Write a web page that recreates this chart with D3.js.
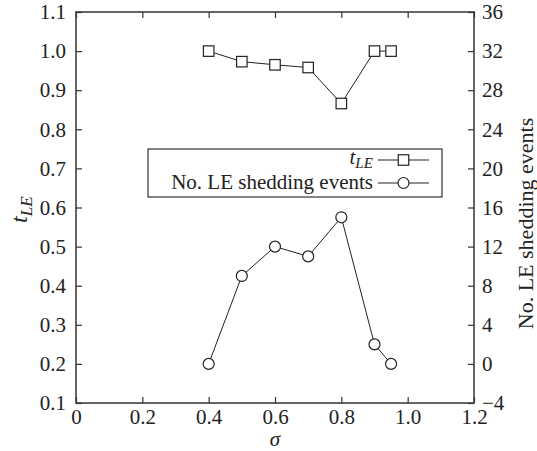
<!DOCTYPE html>
<html>
<head>
<meta charset="utf-8">
<script src="https://cdn.jsdelivr.net/npm/d3@7"></script>
<style>
	body { margin: 0; background: #fff; }
</style>
</head>
<body>
<svg id="chart" width="537" height="451"></svg>
<script>
var sigma = [0.4, 0.5, 0.6, 0.7, 0.8, 0.9, 0.95];
var tLE = [1.0, 0.973, 0.965, 0.958, 0.866, 1.0, 1.0];
var shedding = [0, 9, 12, 11, 15, 2, 0];
var xTicks = [0, 0.2, 0.4, 0.6, 0.8, 1.0, 1.2];
var leftTicks = [0.1, 0.2, 0.3, 0.4, 0.5, 0.6, 0.7, 0.8, 0.9, 1.0, 1.1];
var rightTicks = [-4, 0, 4, 8, 12, 16, 20, 24, 28, 32, 36];

var margin = {left: 76, right: 63, top: 12, bottom: 48};
var width = 537, height = 451;
var fs = 21;
var serif = '"Liberation Serif", "DejaVu Serif", serif';
var ink = '#222', axisColor = '#333';

var svg = d3.select('#chart')
	.attr('font-family', serif);

var x = d3.scaleLinear().domain([0, 1.2]).range([margin.left, width - margin.right]);
var yL = d3.scaleLinear().domain([0.1, 1.1]).range([height - margin.bottom, margin.top]);
var yR = d3.scaleLinear().domain([-4, 36]).range([height - margin.bottom, margin.top]);

// frame
svg.append('rect')
	.attr('x', x(0)).attr('y', yL(1.1))
	.attr('width', x(1.2) - x(0)).attr('height', yL(0.1) - yL(1.1))
	.attr('fill', 'none').attr('stroke', axisColor).attr('stroke-width', 1.5);

function styleAxis(g) {
	g.attr('font-family', serif).attr('font-size', fs);
	g.select('.domain').remove();
	g.selectAll('.tick line').attr('stroke', axisColor).attr('stroke-width', 1.2);
	g.selectAll('.tick text').attr('fill', ink);
}

var fmt1 = d3.format('.1f');
var fmtX = function (d) { return d === 0 ? '0' : fmt1(d); };

// bottom
svg.append('g')
	.attr('transform', 'translate(0,' + yL(0.1) + ')')
	.call(d3.axisBottom(x).tickValues(xTicks).tickFormat(fmtX).tickSizeInner(-6).tickPadding(6))
	.call(styleAxis);
// top
svg.append('g')
	.attr('transform', 'translate(0,' + yL(1.1) + ')')
	.call(d3.axisTop(x).tickValues(xTicks).tickFormat('').tickSizeInner(-6))
	.call(styleAxis);
// left
svg.append('g')
	.attr('transform', 'translate(' + x(0) + ',0)')
	.call(d3.axisLeft(yL).tickValues(leftTicks).tickFormat(fmt1).tickSizeInner(-6).tickPadding(10))
	.call(styleAxis);
// right
svg.append('g')
	.attr('transform', 'translate(' + x(1.2) + ',0)')
	.call(d3.axisRight(yR).tickValues(rightTicks).tickFormat(function (d) { return d < 0 ? '\u2212' + (-d) : d; }).tickSizeInner(-6).tickPadding(8))
	.call(styleAxis);

// series
var pts1 = sigma.map(function (s, i) { return [x(s), yL(tLE[i])]; });
var pts2 = sigma.map(function (s, i) { return [x(s), yR(shedding[i])]; });

svg.append('path').attr('d', d3.line()(pts1))
	.attr('fill', 'none').attr('stroke', ink).attr('stroke-width', 1);
svg.append('path').attr('d', d3.line()(pts2))
	.attr('fill', 'none').attr('stroke', ink).attr('stroke-width', 1);

var sq = 10.5, cr = 5.5;
svg.append('g').selectAll('rect').data(pts1).enter().append('rect')
	.attr('x', function (d) { return d[0] - sq / 2; })
	.attr('y', function (d) { return d[1] - sq / 2; })
	.attr('width', sq).attr('height', sq)
	.attr('fill', '#fff').attr('stroke', ink).attr('stroke-width', 1.2);
svg.append('g').selectAll('circle').data(pts2).enter().append('circle')
	.attr('cx', function (d) { return d[0]; })
	.attr('cy', function (d) { return d[1]; })
	.attr('r', cr)
	.attr('fill', '#fff').attr('stroke', ink).attr('stroke-width', 1.2);

// legend
var lg = svg.append('g');
lg.append('rect').attr('x', 148).attr('y', 149).attr('width', 294).attr('height', 48)
	.attr('fill', '#fff').attr('stroke', axisColor).attr('stroke-width', 1.2);

var t1 = lg.append('text').attr('x', 373).attr('y', 164).attr('text-anchor', 'end')
	.attr('font-size', fs).attr('fill', ink);
t1.append('tspan').attr('font-style', 'italic').text('t');
t1.append('tspan').attr('font-style', 'italic').attr('font-size', fs * 0.72).attr('dy', 4).text('LE');
lg.append('text').attr('x', 373).attr('y', 189).attr('text-anchor', 'end')
	.attr('font-size', fs).attr('fill', ink).text('No. LE shedding events');

lg.append('line').attr('x1', 378).attr('x2', 429).attr('y1', 160).attr('y2', 160)
	.attr('stroke', ink).attr('stroke-width', 1);
lg.append('rect').attr('x', 403.5 - sq / 2).attr('y', 160 - sq / 2).attr('width', sq).attr('height', sq)
	.attr('fill', '#fff').attr('stroke', ink).attr('stroke-width', 1.2);
lg.append('line').attr('x1', 378).attr('x2', 429).attr('y1', 183).attr('y2', 183)
	.attr('stroke', ink).attr('stroke-width', 1);
lg.append('circle').attr('cx', 403.5).attr('cy', 183).attr('r', cr)
	.attr('fill', '#fff').attr('stroke', ink).attr('stroke-width', 1.2);

// axis titles
var yt = svg.append('text')
	.attr('transform', 'translate(27,' + ((yL(0.1) + yL(1.1)) / 2 + 2) + ') rotate(-90)')
	.attr('text-anchor', 'middle')
	.attr('font-size', fs + 3).attr('fill', ink);
yt.append('tspan').attr('font-style', 'italic').text('t');
yt.append('tspan').attr('font-style', 'italic').attr('font-size', (fs + 3) * 0.72).attr('dy', 5).text('LE');

svg.append('text')
	.attr('x', (x(0) + x(1.2)) / 2).attr('y', 446)
	.attr('text-anchor', 'middle')
	.attr('font-size', fs).attr('font-style', 'italic').attr('fill', ink)
	.text('\u03c3');

svg.append('text')
	.attr('transform', 'translate(533,' + ((yL(0.1) + yL(1.1)) / 2 + 16) + ') rotate(-90)')
	.attr('text-anchor', 'middle')
	.attr('font-size', fs + 1).attr('fill', ink)
	.text('No. LE shedding events');
</script>
</body>
</html>
